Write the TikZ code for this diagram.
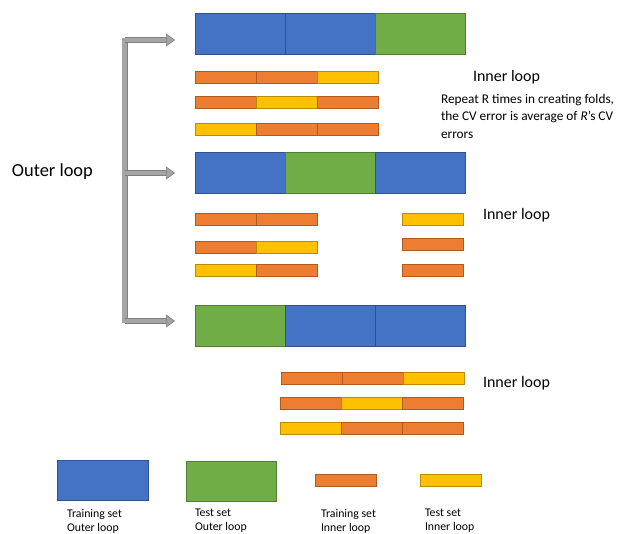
\documentclass[tikz,border=0pt]{standalone}
\usepackage{fontspec}
\setmainfont{Carlito}
\usepackage{tikz}
\usetikzlibrary{positioning,arrows.meta}

\begin{document}
\begin{tikzpicture}[x=1pt,y=-1pt,
  every node/.style={inner sep=0pt, outer sep=0pt, anchor=north west},
  big/.style={line width=0.9pt, minimum width=90pt, minimum height=41pt},
  strip/.style={line width=0.9pt, minimum width=61pt, minimum height=12pt},
  otrain/.style={big, fill=bluefill, draw=blueedge},
  otest/.style={big, fill=greenfill, draw=greenedge},
  itrain/.style={strip, fill=orangefill, draw=orangeedge},
  itest/.style={strip, fill=yellowfill, draw=yellowedge},
  lbl/.style={anchor=west, font=\fontsize{16}{19}\selectfont},
  keytxt/.style={align=left, font=\fontsize{11.8}{14}\selectfont},
  bar/.style={line width=4.5pt, draw=arrowgray, preaction={draw=arrowedge, line width=6pt}},
  arr/.style={line width=4.5pt, draw=arrowgray, shorten >=20pt,
    -{Triangle[length=9pt,width=13pt,fill=arrowgray,color=arrowedge,line width=0.7pt]},
    preaction={draw=arrowedge, line width=6pt, -, shorten >=27pt}}]
  % office-like palette
  \definecolor{bluefill}{HTML}{4472C4}
  \definecolor{blueedge}{HTML}{2F528F}
  \definecolor{greenfill}{HTML}{70AD47}
  \definecolor{greenedge}{HTML}{507E32}
  \definecolor{orangefill}{HTML}{ED7D31}
  \definecolor{orangeedge}{HTML}{AE5A21}
  \definecolor{yellowfill}{HTML}{FFC000}
  \definecolor{yellowedge}{HTML}{BC8C00}
  \definecolor{arrowgray}{HTML}{A5A5A5}
  \definecolor{arrowedge}{HTML}{7F7F7F}
  \useasboundingbox (0,0) rectangle (624,533);

  % first outer split
  \node[otrain] (o1a) at (195,13) {};
  \node[otrain, right=0pt of o1a] (o1b) {};
  \node[otest, right=0pt of o1b] (o1c) {};
  \node[itrain] (p1a) at (195,71) {};
  \node[itrain, right=0pt of p1a] (p1b) {};
  \node[itest, right=0pt of p1b] (p1c) {};
  \node[itrain] (p2a) at (195,96) {};
  \node[itest, right=0pt of p2a] (p2b) {};
  \node[itrain, right=0pt of p2b] (p2c) {};
  \node[itest] (p3a) at (195,123) {};
  \node[itrain, right=0pt of p3a] (p3b) {};
  \node[itrain, right=0pt of p3b] (p3c) {};
  \node[lbl] (inner1) at (473,77) {Inner loop};
  \node[align=left, font=\fontsize{13.3}{17.5}\selectfont] (note) at (441,94)
    {Repeat R times in creating folds,\\the CV error is average of \textit{R}’s CV\\errors};

  % second outer split
  \node[otrain] (o2a) at (195,152) {};
  \node[otest, right=0pt of o2a] (o2b) {};
  \node[otrain, right=0pt of o2b] (o2c) {};
  \node[itrain] (q1a) at (195,213) {};
  \node[itrain, right=0pt of q1a] (q1b) {};
  \node[itest] (q1r) at (402,213) {};
  \node[itrain] (q2a) at (195,241) {};
  \node[itest, right=0pt of q2a] (q2b) {};
  \node[itrain] (q2r) at (402,238) {};
  \node[itest] (q3a) at (195,264) {};
  \node[itrain, right=0pt of q3a] (q3b) {};
  \node[itrain] (q3r) at (402,264) {};
  \node[lbl] (inner2) at (483,215) {Inner loop};

  % third outer split
  \node[otest] (o3a) at (195,305) {};
  \node[otrain, right=0pt of o3a] (o3b) {};
  \node[otrain, right=0pt of o3b] (o3c) {};
  \node[itrain] (r1a) at (281,372) {};
  \node[itrain, right=0pt of r1a] (r1b) {};
  \node[itest, right=0pt of r1b] (r1c) {};
  \node[itrain] (r2a) at (280,397) {};
  \node[itest, right=0pt of r2a] (r2b) {};
  \node[itrain, right=0pt of r2b] (r2c) {};
  \node[itest] (r3a) at (280,422) {};
  \node[itrain, right=0pt of r3a] (r3b) {};
  \node[itrain, right=0pt of r3b] (r3c) {};
  \node[lbl] (inner3) at (483,383) {Inner loop};

  % outer loop bracket
  \node[lbl, font=\fontsize{18.4}{21}\selectfont] (outer) at (12,172) {Outer loop};
  \coordinate (top) at (124.5,38);
  \coordinate (bot) at (124.5,323);
  \coordinate (s1) at (124.5,40);
  \coordinate (s2) at (124.5,173);
  \coordinate (s3) at (124.5,321);
  \draw[bar] (top) -- (bot);
  \draw[arr] (s1) -- (s1 -| o1a.west);
  \draw[arr] (s2) -- (s2 -| o2a.west);
  \draw[arr] (s3) -- (s3 -| o3a.west);

  % legend
  \node[otrain, minimum width=91pt, minimum height=40pt] (kblue) at (57,460) {};
  \node[otest, minimum height=40pt] (kgreen) at (186,461) {};
  \node[itrain] (korange) at (315,474) {};
  \node[itest] (kyellow) at (420,474) {};
  \node[keytxt] (tblue) at (67,509) {Training set\\Outer loop};
  \node[keytxt] (tgreen) at (195,509) {Test set\\Outer loop};
  \node[keytxt] (torange) at (321,509) {Training set\\Inner loop};
  \node[keytxt] (tyellow) at (425,509) {Test set\\Inner loop};
\end{tikzpicture}
\end{document}
